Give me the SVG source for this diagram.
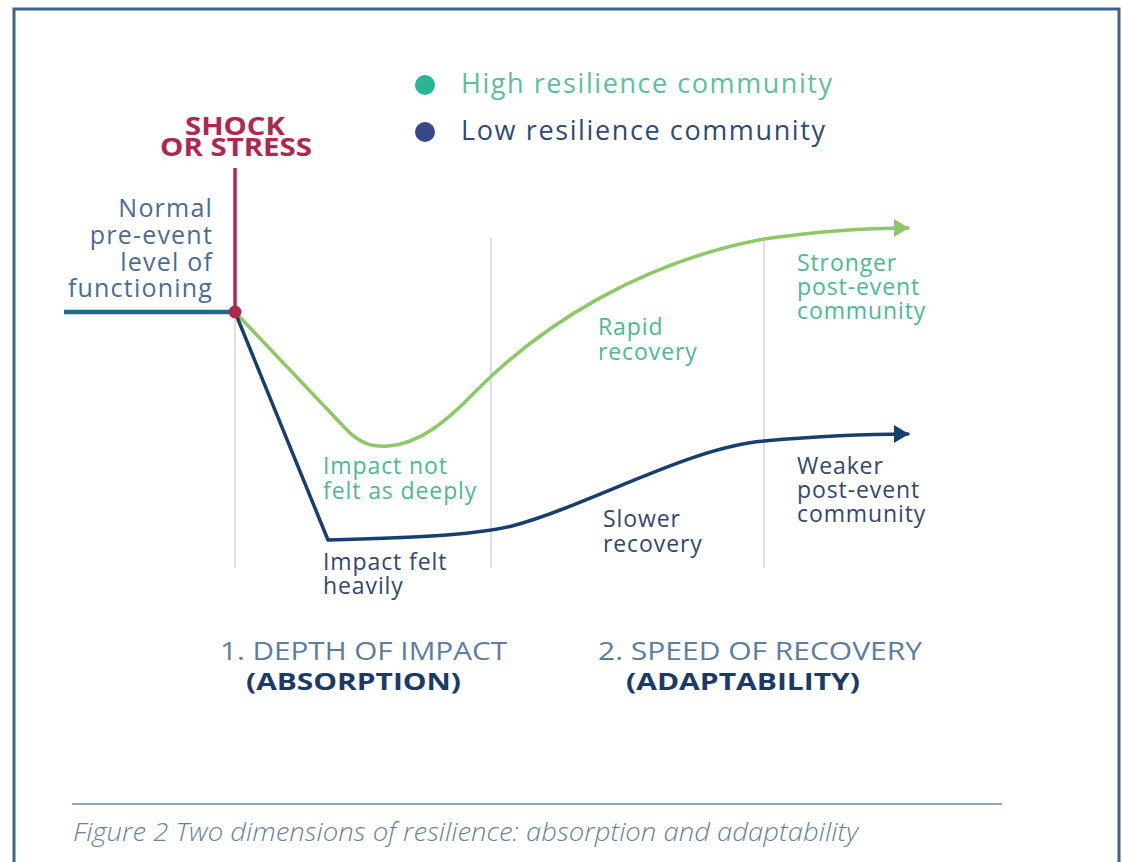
<svg xmlns="http://www.w3.org/2000/svg" width="1122" height="862" viewBox="0 0 1122 862">
  <style>
    text { font-family: "Open Sans", "Noto Sans", "DejaVu Sans", sans-serif; }
    .lbl { font-size: 23px; letter-spacing: 0.9px; }
    .hi { fill: #4db894; }
    .lo { fill: #33476e; }
    .axis { font-size: 25px; fill: #5c7ca2; }
    .axisb { font-size: 24px; font-weight: 700; fill: #1c3a66; }
    .grid { stroke: #d4d4d4; stroke-width: 1.5; fill: none; }
  </style>
  <defs>
    <marker id="arrHi" markerUnits="userSpaceOnUse" markerWidth="16" markerHeight="18" refX="14" refY="9" orient="auto">
      <path d="M0,0 L15,9 L0,18 Z" fill="#8dc766"/>
    </marker>
    <marker id="arrLo" markerUnits="userSpaceOnUse" markerWidth="16" markerHeight="18" refX="14" refY="9" orient="auto">
      <path d="M0,0 L15,9 L0,18 Z" fill="#173f6e"/>
    </marker>
  </defs>

  <rect width="1122" height="862" fill="#ffffff"/>
  <!-- frame (open at the bottom) -->
  <path d="M14,862 V9 H1119 V862" fill="none" stroke="#3a6391" stroke-width="3"/>

  <!-- legend -->
  <g id="legend">
    <circle cx="425" cy="85" r="10" fill="#2ab493"/>
    <text x="461" y="93" font-size="27" fill="#5cc09c" textLength="371" lengthAdjust="spacing">High resilience community</text>
    <circle cx="425" cy="132" r="10" fill="#38488a"/>
    <text x="461" y="140" font-size="27" fill="#2e4a78" textLength="364" lengthAdjust="spacing">Low resilience community</text>
  </g>

  <!-- phase dividers -->
  <g id="grid">
    <line class="grid" x1="235" y1="318" x2="235" y2="568"/>
    <line class="grid" x1="491" y1="238" x2="491" y2="568"/>
    <line class="grid" x1="764" y1="238" x2="764" y2="568"/>
  </g>

  <!-- shock marker -->
  <g id="shock" font-size="25" font-weight="700" fill="#b1264f" text-anchor="middle">
    <text x="235" y="135" textLength="100" lengthAdjust="spacingAndGlyphs">SHOCK</text>
    <text x="236" y="156" textLength="152" lengthAdjust="spacingAndGlyphs">OR STRESS</text>
  </g>

  <g id="baseline-label" font-size="25" fill="#4b6b95" text-anchor="end" letter-spacing="1.2">
    <text x="213" y="217">Normal</text>
    <text x="213" y="244">pre-event</text>
    <text x="213" y="271">level of</text>
    <text x="213" y="297">functioning</text>
  </g>

  <g id="connectors" fill="none" stroke-linejoin="round" stroke-linecap="round">
    <line x1="64" y1="312" x2="235" y2="312" stroke="#1c6a8a" stroke-width="4.5" stroke-linecap="butt"/>
    <line x1="235" y1="168" x2="235" y2="312" stroke="#b1264f" stroke-width="3.5" stroke-linecap="butt"/>
    <path id="high-curve" d="M235,312 L345,428 C360,444 372,447 388,446 C420,444 448,420 475,392 C540,326 640,262 764,239 C820,231 870,228 908,228" stroke="#8dc766" stroke-width="3.5" marker-end="url(#arrHi)"/>
    <path id="low-curve" d="M235,312 L328,540 C400,538 470,536 512,526 C590,505 690,447 764,441 C820,436 870,434 908,434" stroke="#173f6e" stroke-width="3.5" marker-end="url(#arrLo)"/>
    <circle cx="235" cy="312" r="6.5" fill="#b1264f" stroke="none"/>
  </g>

  <g id="high-labels" class="lbl hi">
    <text x="323" y="474">Impact not</text>
    <text x="323" y="499">felt as deeply</text>
    <text x="598" y="335">Rapid</text>
    <text x="598" y="360">recovery</text>
    <text x="797" y="271">Stronger</text>
    <text x="797" y="295">post-event</text>
    <text x="797" y="319">community</text>
  </g>

  <g id="low-labels" class="lbl lo">
    <text x="323" y="570">Impact felt</text>
    <text x="323" y="594">heavily</text>
    <text x="603" y="527">Slower</text>
    <text x="603" y="552">recovery</text>
    <text x="797" y="474">Weaker</text>
    <text x="797" y="498">post-event</text>
    <text x="797" y="522">community</text>
  </g>

  <g id="phase-labels">
    <text class="axis" x="220" y="660" textLength="287" lengthAdjust="spacingAndGlyphs">1. DEPTH OF IMPACT</text>
    <text class="axisb" x="246" y="690" textLength="215" lengthAdjust="spacingAndGlyphs">(ABSORPTION)</text>
    <text class="axis" x="598" y="660" textLength="324" lengthAdjust="spacingAndGlyphs">2. SPEED OF RECOVERY</text>
    <text class="axisb" x="626" y="690" textLength="234" lengthAdjust="spacingAndGlyphs">(ADAPTABILITY)</text>
  </g>

  <g id="caption">
    <line x1="72" y1="804" x2="1002" y2="804" stroke="#6d8aa6" stroke-width="1.5"/>
    <text x="73" y="841" font-size="25" font-style="italic" font-weight="300" fill="#6c7f98" textLength="785" lengthAdjust="spacingAndGlyphs">Figure 2 Two dimensions of resilience: absorption and adaptability</text>
  </g>
</svg>
